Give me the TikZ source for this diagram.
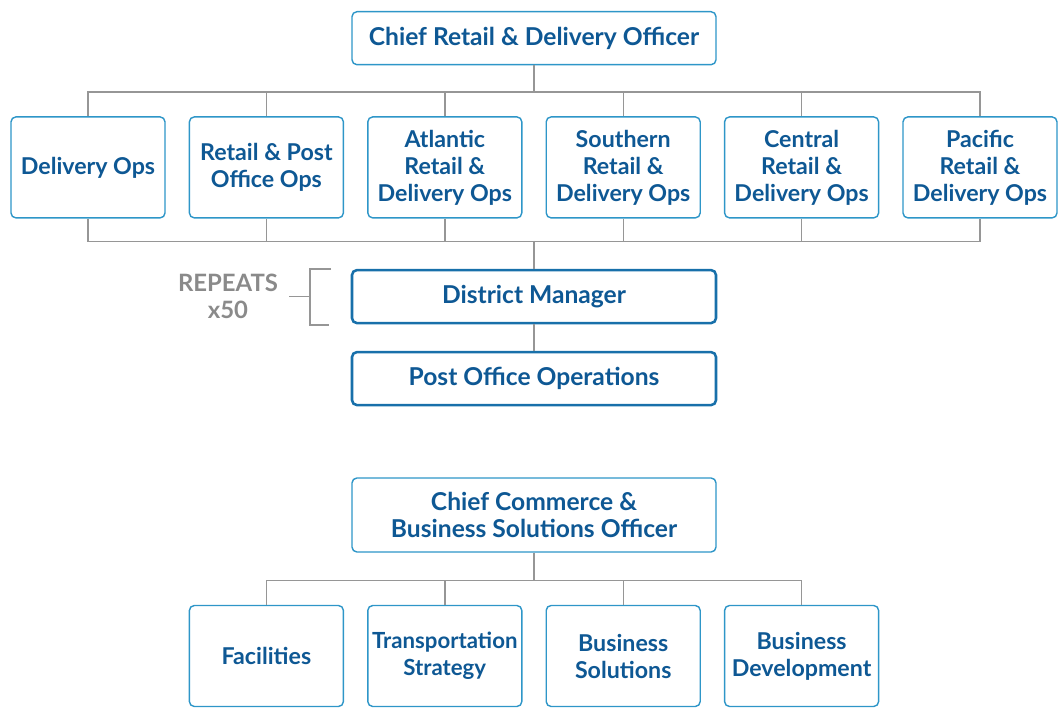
\documentclass[tikz,border=0pt]{standalone}
\usepackage{fontspec}
\setmainfont{Lato}
\definecolor{boxblue}{RGB}{46,150,200}
\definecolor{deepblue}{RGB}{24,112,170}
\definecolor{textblue}{RGB}{14,88,148}
\definecolor{linegray}{RGB}{150,150,150}
\definecolor{repgray}{RGB}{138,138,138}
\tikzset{
  unit/.style={draw=boxblue, line width=1pt, rounded corners=3.5pt, fill=white,
    text=textblue, align=center, minimum width=3.85cm, minimum height=2.525cm,
    inner xsep=1pt, font=\fontsize{16.5}{19.2}\selectfont\bfseries},
  chief/.style={unit, minimum width=9.1cm, minimum height=1.325cm,
    font=\fontsize{17.5}{19.2}\selectfont\bfseries},
  local/.style={chief, draw=deepblue, line width=1.8pt},
  line/.style={draw=linegray, line width=1pt}
}
\begin{document}
\begin{tikzpicture}
\useasboundingbox (0,0) rectangle (26.55,17.825);
% retail & delivery
\node[chief] (crd) at (13.35,16.87) {Chief Retail \& Delivery Officer};
\node[unit] (dop) at (2.2,13.64) {Delivery Ops};
\node[unit] (rpo) at (6.66,13.64) {Retail \& Post\\Office Ops};
\node[unit] (atl) at (11.12,13.64) {Atlantic\\Retail \&\\Delivery Ops};
\node[unit] (sou) at (15.58,13.64) {Southern\\Retail \&\\Delivery Ops};
\node[unit] (cen) at (20.04,13.64) {Central\\Retail \&\\Delivery Ops};
\node[unit] (pac) at (24.5,13.64) {Pacific\\Retail \&\\Delivery Ops};
\coordinate (topbus) at (13.35,15.5);
\coordinate (lowbus) at (13.35,11.8);
\draw[line] (crd) -- (topbus);
\draw[line] (dop.north) -- ++(0,0.6) -| (pac.north);
\draw[line] (rpo.north) -- (rpo.north |- topbus);
\draw[line] (atl.north) -- (atl.north |- topbus);
\draw[line] (sou.north) -- (sou.north |- topbus);
\draw[line] (cen.north) -- (cen.north |- topbus);
\draw[line] (dop.south) -- ++(0,-0.575) -| (pac.south);
\draw[line] (rpo.south) -- (rpo.south |- lowbus);
\draw[line] (atl.south) -- (atl.south |- lowbus);
\draw[line] (sou.south) -- (sou.south |- lowbus);
\draw[line] (cen.south) -- (cen.south |- lowbus);
\node[local] (dmg) at (13.35,10.41) {District Manager};
\node[local] (poo) at (13.35,8.36) {Post Office Operations};
\draw[line] (lowbus) -- (dmg);
\draw[line] (dmg) -- (poo);
% repeats bracket
\node[text=repgray, align=center, font=\fontsize{17}{19.2}\selectfont\bfseries] (rep) at (5.7,10.41) {REPEATS\\x50};
\coordinate (brk) at (7.75,10.41);
\draw[line] (7.225,10.41) -- (brk);
\draw[line] (8.28,11.1) -- (7.75,11.1) -- (7.75,9.7) -- (8.22,9.7);
% commerce & business solutions
\node[chief, minimum height=1.85cm] (ccb) at (13.35,4.95) {Chief Commerce \&\\Business Solutions Officer};
\node[unit] (fac) at (6.66,1.425) {Facilities};
\node[unit, font=\fontsize{15.8}{19.2}\selectfont\bfseries] (trs) at (11.12,1.425) {Transportation\\Strategy};
\node[unit] (bso) at (15.58,1.425) {Business\\Solutions};
\node[unit] (bdv) at (20.04,1.425) {Business\\Development};
\coordinate (combus) at (13.35,3.3);
\draw[line] (ccb) -- (combus);
\draw[line] (fac.north) -- ++(0,0.61) -| (bdv.north);
\draw[line] (trs.north) -- (trs.north |- combus);
\draw[line] (bso.north) -- (bso.north |- combus);
\end{tikzpicture}
\end{document}
